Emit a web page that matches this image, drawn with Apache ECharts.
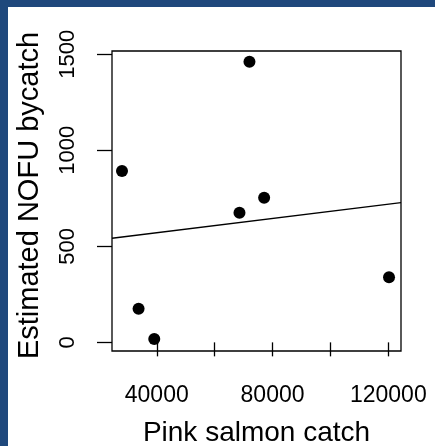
<!DOCTYPE html>
<html>
<head>
<meta charset="utf-8">
<title>NOFU bycatch vs pink salmon catch</title>
<script src="https://cdn.jsdelivr.net/npm/echarts@6/dist/echarts.min.js"></script>
<style>
    html, body { margin: 0; padding: 0; background: #fff; }
    #chart { width: 435px; height: 446px; }
</style>
</head>
<body>
<div id="chart"></div>
<script>
"use strict";
// values
var pinkCatch = [27990, 33720, 39140, 68580, 72030, 77100, 120240];
var nofuBycatch = [892, 175, 17, 675, 1461, 753, 339];
// fitted line (abline of lm), ends at the plot edges
var fitX = [24540, 124380];
var fitY = [542, 727];
var xTicks = [40000, 60000, 80000, 100000, 120000];
var xLabels = [40000, 80000, 120000];
var yTicks = [0, 500, 1000, 1500];

var FONT = "Liberation Sans, Arial, sans-serif";
var chart = echarts.init(document.getElementById("chart"));

var points = pinkCatch.map(function (x, i) { return [x, nofuBycatch[i]]; });
var fit = fitX.map(function (x, i) { return [x, fitY[i]]; });
var plain = function (v) { return String(v); };

chart.setOption({
    backgroundColor: "#fff",
    animation: false,
    graphic: [
        { type: "rect", left: 0, top: 0, shape: { width: 435, height: 7 }, style: { fill: "#1f487c" } },
        { type: "rect", left: 0, top: 0, shape: { width: 8, height: 446 }, style: { fill: "#1f487c" } }
    ],
    grid: {
        left: 112, top: 51, right: 34, bottom: 95,
        outerBoundsMode: "none",
        containLabel: false,
        show: true, borderColor: "#000", borderWidth: 1.3, backgroundColor: "transparent"
    },
    xAxis: {
        type: "value",
        min: fitX[0], max: fitX[1],
        name: "Pink salmon catch",
        nameLocation: "middle",
        nameGap: 68,
        nameTextStyle: { fontFamily: FONT, fontSize: 28, color: "#000" },
        splitLine: { show: false },
        axisLine: { show: false },
        axisTick: { show: true, inside: false, length: 14, customValues: xTicks, lineStyle: { color: "#000", width: 1.3 } },
        axisLabel: { customValues: xLabels, formatter: plain, margin: 33, fontFamily: FONT, fontSize: 23, color: "#000" }
    },
    yAxis: {
        type: "value",
        min: -45, max: 1517,
        name: "Estimated NOFU bycatch",
        nameLocation: "middle",
        nameGap: 68,
        nameTextStyle: { fontFamily: FONT, fontSize: 29, color: "#000", padding: [0, 0, 0, 11] },
        splitLine: { show: false },
        axisLine: { show: false },
        axisTick: { show: true, inside: false, length: 15, customValues: yTicks, lineStyle: { color: "#000", width: 1.3 } },
        axisLabel: { customValues: yTicks, formatter: plain, rotate: 90, margin: 33, fontFamily: FONT, fontSize: 22, color: "#000" }
    },
    series: [
        {
            type: "line",
            data: fit,
            showSymbol: false,
            silent: true,
            lineStyle: { color: "#000", width: 1.3 }
        },
        {
            type: "scatter",
            data: points,
            symbol: "circle",
            symbolSize: 12,
            itemStyle: { color: "#000", opacity: 1 }
        }
    ]
});
</script>
</body>
</html>
